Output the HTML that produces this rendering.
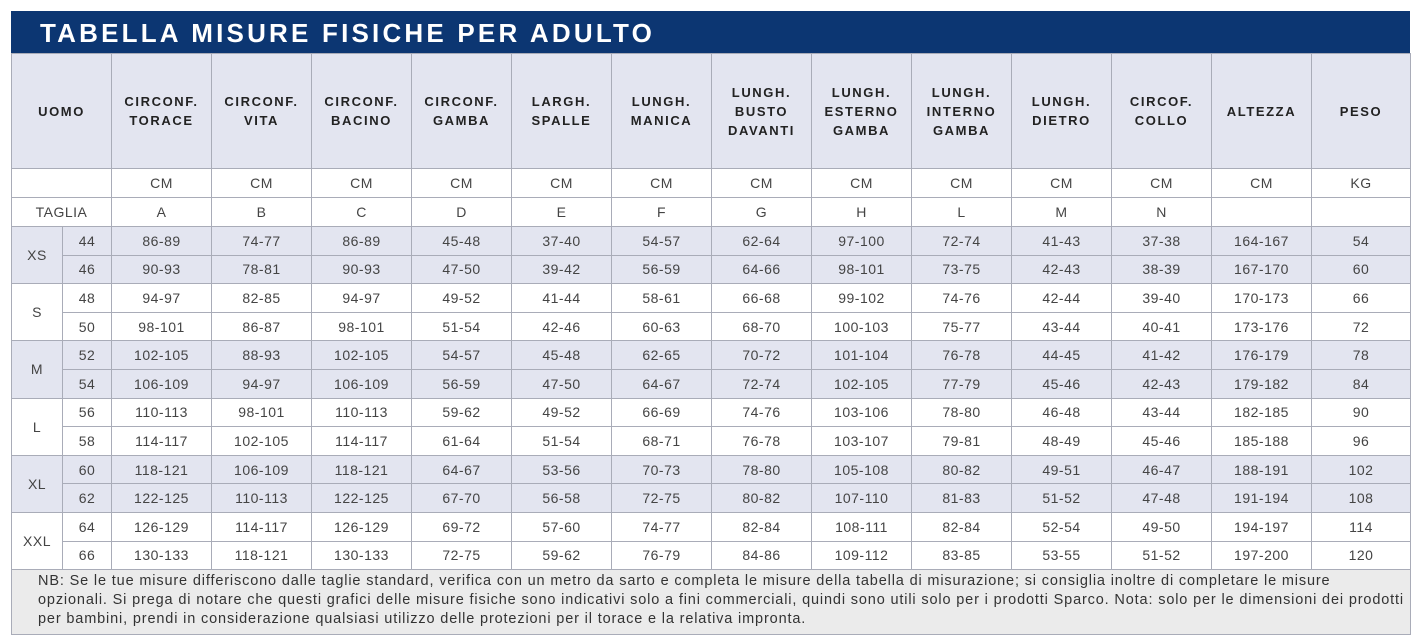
<!DOCTYPE html>
<html><head><meta charset="utf-8"><style>
body{margin:0;background:#fff;width:1414px;height:637px;overflow:hidden;font-family:"Liberation Sans",sans-serif;}
.wrap{position:absolute;left:11px;top:11px;width:1399px;}
.title{height:42px;background:#0c3672;color:#fff;font-weight:bold;font-size:26px;letter-spacing:3.2px;line-height:44px;padding-left:29px;box-sizing:border-box;}
table{border-collapse:collapse;table-layout:fixed;width:1398px;}
td{border:1px solid #a9acb8;text-align:center;color:#444;font-size:14px;padding:0;letter-spacing:0.5px;}
tr.h td{background:#e3e5f0;font-weight:bold;font-size:13px;letter-spacing:1.6px;color:#222;line-height:19px;height:114px;}
tr.u td{height:28px;}
tr.d td{height:27.6px;}
tr.s td{background:#e3e5f0;}
td.note{background:#ebebeb;text-align:left;font-size:14.5px;line-height:19px;padding:2px 20px 4px 26px;letter-spacing:0.85px;color:#333;height:58px;vertical-align:top;white-space:nowrap;}
</style></head><body><div class="wrap">
<div class="title">TABELLA MISURE FISICHE PER ADULTO</div>
<table>
<colgroup><col style="width:51px"><col style="width:49px"><col span="12" style="width:100px"><col style="width:99px"></colgroup>
<tr class="h"><td colspan="2">UOMO</td><td>CIRCONF.<br>TORACE</td><td>CIRCONF.<br>VITA</td><td>CIRCONF.<br>BACINO</td><td>CIRCONF.<br>GAMBA</td><td>LARGH.<br>SPALLE</td><td>LUNGH.<br>MANICA</td><td>LUNGH.<br>BUSTO<br>DAVANTI</td><td>LUNGH.<br>ESTERNO<br>GAMBA</td><td>LUNGH.<br>INTERNO<br>GAMBA</td><td>LUNGH.<br>DIETRO</td><td>CIRCOF.<br>COLLO</td><td>ALTEZZA</td><td>PESO</td></tr>
<tr class="u"><td colspan="2"></td><td>CM</td><td>CM</td><td>CM</td><td>CM</td><td>CM</td><td>CM</td><td>CM</td><td>CM</td><td>CM</td><td>CM</td><td>CM</td><td>CM</td><td>KG</td></tr>
<tr class="u"><td colspan="2">TAGLIA</td><td>A</td><td>B</td><td>C</td><td>D</td><td>E</td><td>F</td><td>G</td><td>H</td><td>L</td><td>M</td><td>N</td><td></td><td></td></tr>
<tr class="d s"><td rowspan="2">XS</td><td>44</td><td>86-89</td><td>74-77</td><td>86-89</td><td>45-48</td><td>37-40</td><td>54-57</td><td>62-64</td><td>97-100</td><td>72-74</td><td>41-43</td><td>37-38</td><td>164-167</td><td>54</td></tr>
<tr class="d s"><td>46</td><td>90-93</td><td>78-81</td><td>90-93</td><td>47-50</td><td>39-42</td><td>56-59</td><td>64-66</td><td>98-101</td><td>73-75</td><td>42-43</td><td>38-39</td><td>167-170</td><td>60</td></tr>
<tr class="d"><td rowspan="2">S</td><td>48</td><td>94-97</td><td>82-85</td><td>94-97</td><td>49-52</td><td>41-44</td><td>58-61</td><td>66-68</td><td>99-102</td><td>74-76</td><td>42-44</td><td>39-40</td><td>170-173</td><td>66</td></tr>
<tr class="d"><td>50</td><td>98-101</td><td>86-87</td><td>98-101</td><td>51-54</td><td>42-46</td><td>60-63</td><td>68-70</td><td>100-103</td><td>75-77</td><td>43-44</td><td>40-41</td><td>173-176</td><td>72</td></tr>
<tr class="d s"><td rowspan="2">M</td><td>52</td><td>102-105</td><td>88-93</td><td>102-105</td><td>54-57</td><td>45-48</td><td>62-65</td><td>70-72</td><td>101-104</td><td>76-78</td><td>44-45</td><td>41-42</td><td>176-179</td><td>78</td></tr>
<tr class="d s"><td>54</td><td>106-109</td><td>94-97</td><td>106-109</td><td>56-59</td><td>47-50</td><td>64-67</td><td>72-74</td><td>102-105</td><td>77-79</td><td>45-46</td><td>42-43</td><td>179-182</td><td>84</td></tr>
<tr class="d"><td rowspan="2">L</td><td>56</td><td>110-113</td><td>98-101</td><td>110-113</td><td>59-62</td><td>49-52</td><td>66-69</td><td>74-76</td><td>103-106</td><td>78-80</td><td>46-48</td><td>43-44</td><td>182-185</td><td>90</td></tr>
<tr class="d"><td>58</td><td>114-117</td><td>102-105</td><td>114-117</td><td>61-64</td><td>51-54</td><td>68-71</td><td>76-78</td><td>103-107</td><td>79-81</td><td>48-49</td><td>45-46</td><td>185-188</td><td>96</td></tr>
<tr class="d s"><td rowspan="2">XL</td><td>60</td><td>118-121</td><td>106-109</td><td>118-121</td><td>64-67</td><td>53-56</td><td>70-73</td><td>78-80</td><td>105-108</td><td>80-82</td><td>49-51</td><td>46-47</td><td>188-191</td><td>102</td></tr>
<tr class="d s"><td>62</td><td>122-125</td><td>110-113</td><td>122-125</td><td>67-70</td><td>56-58</td><td>72-75</td><td>80-82</td><td>107-110</td><td>81-83</td><td>51-52</td><td>47-48</td><td>191-194</td><td>108</td></tr>
<tr class="d"><td rowspan="2">XXL</td><td>64</td><td>126-129</td><td>114-117</td><td>126-129</td><td>69-72</td><td>57-60</td><td>74-77</td><td>82-84</td><td>108-111</td><td>82-84</td><td>52-54</td><td>49-50</td><td>194-197</td><td>114</td></tr>
<tr class="d"><td>66</td><td>130-133</td><td>118-121</td><td>130-133</td><td>72-75</td><td>59-62</td><td>76-79</td><td>84-86</td><td>109-112</td><td>83-85</td><td>53-55</td><td>51-52</td><td>197-200</td><td>120</td></tr>
<tr><td class="note" colspan="15">NB: Se le tue misure differiscono dalle taglie standard, verifica con un metro da sarto e completa le misure della tabella di misurazione; si consiglia inoltre di completare le misure<br>opzionali. Si prega di notare che questi grafici delle misure fisiche sono indicativi solo a fini commerciali, quindi sono utili solo per i prodotti Sparco. Nota: solo per le dimensioni dei prodotti<br>per bambini, prendi in considerazione qualsiasi utilizzo delle protezioni per il torace e la relativa impronta.</td></tr>
</table></div></body></html>
